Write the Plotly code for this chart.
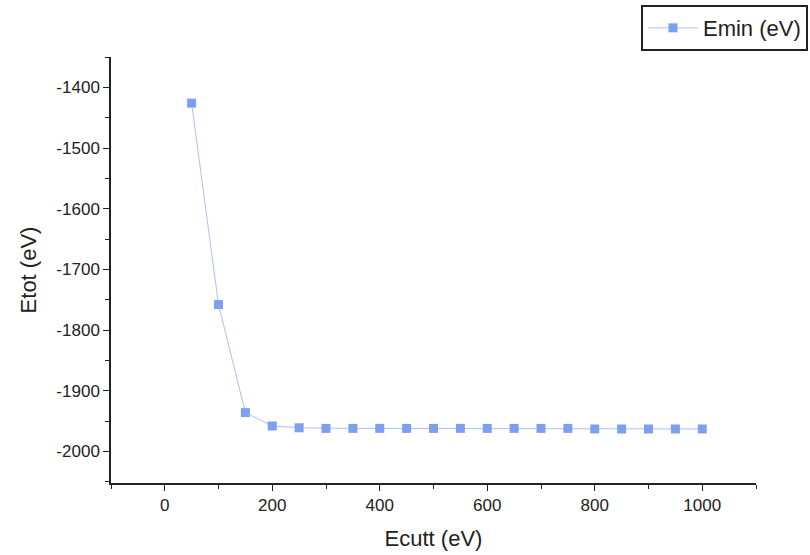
import plotly.graph_objects as go

ecut = [50, 100, 150, 200, 250, 300, 350, 400, 450, 500, 550, 600, 650, 700, 750, 800, 850, 900, 950, 1000]
etot = [-1426, -1758, -1936, -1958, -1961, -1962, -1962, -1962, -1962, -1962, -1962, -1962, -1962, -1962, -1962, -1963, -1963, -1963, -1963, -1963]

x_ticks = [0, 200, 400, 600, 800, 1000]
y_ticks = [-2000, -1900, -1800, -1700, -1600, -1500, -1400]
y_labels = [str(v) for v in y_ticks]

fig = go.Figure()
fig.add_trace(go.Scatter(
    x=ecut, y=etot, mode="lines+markers", name="Emin (eV)",
    line=dict(color="#aabff2", width=1),
    marker=dict(symbol="square", size=9, color="#7d9ff0"),
))

axis_common = dict(
    showgrid=False, zeroline=False, showline=True, linecolor="#222", linewidth=1.5,
    ticks="outside", ticklen=6, tickwidth=1.2, tickcolor="#222",
    tickfont=dict(family="Liberation Sans, Arial", size=17, color="#222"),
    mirror=False, automargin=False,
)

fig.update_layout(
    width=810, height=555,
    paper_bgcolor="white", plot_bgcolor="white",
    margin=dict(l=111, r=54, t=57, b=72, autoexpand=False),
    font=dict(family="Liberation Sans, Arial", color="#222"),
    xaxis=dict(range=[-100, 1100], tickvals=x_ticks,
               minor=dict(ticks="outside", ticklen=4, tickwidth=1, tickcolor="#222", dtick=100, tick0=0),
               title=dict(text="Ecutt (eV)", font=dict(size=22), standoff=16), **axis_common),
    yaxis=dict(range=[-2052, -1350], tickvals=y_ticks, ticktext=y_labels,
               minor=dict(ticks="outside", ticklen=4, tickwidth=1, tickcolor="#222", dtick=50, tick0=0),
               title=dict(text="Etot (eV)", font=dict(size=22), standoff=14), **axis_common),
    showlegend=True,
    legend=dict(x=1.0806, xanchor="right", y=1.122, yanchor="top",
                bordercolor="#222", borderwidth=2, bgcolor="white",
                font=dict(size=22), itemwidth=50),
)

fig.write_html("out.html")
